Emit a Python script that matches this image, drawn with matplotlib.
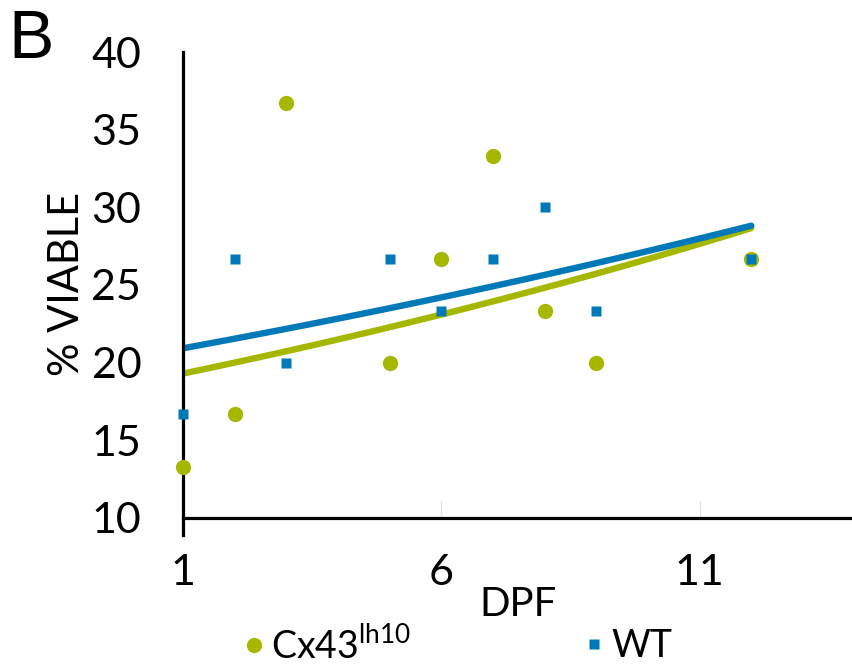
import numpy as np
import matplotlib
matplotlib.use("Agg")
import matplotlib.pyplot as plt
from matplotlib.lines import Line2D

plt.rcParams['font.family'] = ['Lato', 'DejaVu Sans']

dpf = [1, 2, 3, 5, 6, 7, 8, 9, 12]
cx43 = [13.3, 16.7, 36.7, 20.0, 26.7, 33.3, 23.3, 20.0, 26.7]
wt = [16.7, 26.7, 20.0, 26.7, 23.3, 26.7, 30.0, 23.3, 26.7]
xticks = [1, 6, 11]
yticks = [10, 15, 20, 25, 30, 35, 40]
series_names = ['Cx43$^{\\mathregular{lh10}}$', 'WT']

green = '#A6B700'
blue = '#0079B8'

fig = plt.figure(figsize=(8.52, 6.71), dpi=100)
ax = fig.add_axes([183/852, 1-535/671, 1-183/852, (535-52)/671])

x = np.array(dpf, float)

def expfit(y):
    b, ln_a = np.polyfit(x, np.log(np.array(y, float)), 1)
    xs = np.linspace(x.min(), x.max(), 100)
    return xs, np.exp(ln_a + b*xs)

xs, yg = expfit(cx43)
ax.plot(xs, yg, color=green, lw=4.6, zorder=2, solid_capstyle='round')
xs, yb = expfit(wt)
ax.plot(xs, yb, color=blue, lw=4.6, zorder=2, solid_capstyle='round')

ax.plot(dpf, cx43, 'o', color=green, ms=11, mec='none', zorder=3, clip_on=False)
ax.plot(dpf, wt, 's', color=blue, ms=7.5, mec='none', zorder=3, clip_on=False)

ax.set_xlim(1, 13.95)
ax.set_ylim(8.9, 40)
for s in ['top', 'right']:
    ax.spines[s].set_visible(False)
ax.spines['bottom'].set_position(('data', 10))
ax.spines['left'].set_linewidth(2.3)
ax.spines['bottom'].set_linewidth(2.3)
ax.set_xticks(xticks)
ax.set_yticks(yticks)
ax.tick_params(axis='y', length=0, pad=30, labelsize=31)
ax.tick_params(axis='x', length=12, direction='in', color='#dddddd', width=0.8, pad=26, labelsize=31)
ax.patch.set_alpha(0)

fig.text(518/852, 1-605/671, 'DPF', fontsize=29, ha='center', va='center')
fig.text(67/852, 1-284/671, '% VIABLE', fontsize=30, ha='center', va='center', rotation=90)
fig.text(8/852, 1-40/671, 'B', fontsize=49, ha='left', va='center',
         family=['Liberation Sans', 'DejaVu Sans'])

h_g = Line2D([], [], marker='o', ls='none', color=green, ms=11, mec='none')
h_b = Line2D([], [], marker='s', ls='none', color=blue, ms=7.5, mec='none')
common = dict(loc='center left', frameon=False, fontsize=27, handlelength=0.6,
              handletextpad=0.15, borderpad=0, borderaxespad=0)
fig.legend([h_g], [series_names[0]], bbox_to_anchor=(243/852, 1-646/671), **common)
fig.legend([h_b], [series_names[1]], bbox_to_anchor=(583/852, 1-646/671), **common)

fig.savefig('out.png', dpi=100)
